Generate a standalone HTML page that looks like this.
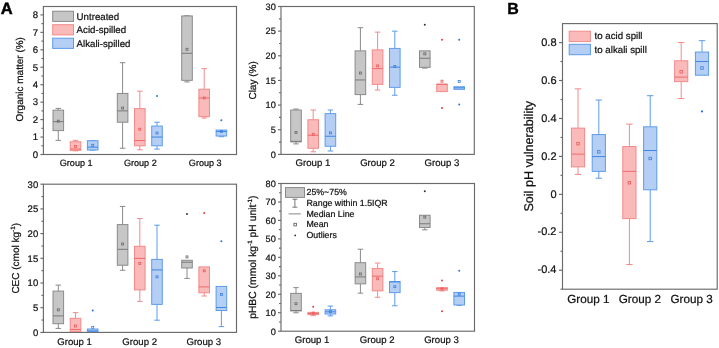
<!DOCTYPE html>
<html><head><meta charset="utf-8"><style>
html,body{margin:0;padding:0;background:#fff;}
body{width:719px;height:348px;overflow:hidden;}
svg{display:block;will-change:transform;text-rendering:geometricPrecision;font-family:"Liberation Sans", sans-serif;}
text{stroke:#111;stroke-width:0.22px;}
</style></head><body>
<svg width="719" height="348" viewBox="0 0 719 348">
<rect width="719" height="348" fill="#fff"/>
<rect x="43.4" y="6.5" width="193.1" height="148" fill="none" stroke="#6a6a6a" stroke-width="1.15"/>
<line x1="40.4" y1="154.5" x2="43.4" y2="154.5" stroke="#6a6a6a" stroke-width="1.15"/>
<text x="38.2" y="157.8" font-size="9.6" text-anchor="end" font-weight="normal" fill="#111">0</text>
<line x1="40.4" y1="137.05" x2="43.4" y2="137.05" stroke="#6a6a6a" stroke-width="1.15"/>
<text x="38.2" y="140.35" font-size="9.6" text-anchor="end" font-weight="normal" fill="#111">1</text>
<line x1="40.4" y1="119.6" x2="43.4" y2="119.6" stroke="#6a6a6a" stroke-width="1.15"/>
<text x="38.2" y="122.9" font-size="9.6" text-anchor="end" font-weight="normal" fill="#111">2</text>
<line x1="40.4" y1="102.15" x2="43.4" y2="102.15" stroke="#6a6a6a" stroke-width="1.15"/>
<text x="38.2" y="105.45" font-size="9.6" text-anchor="end" font-weight="normal" fill="#111">3</text>
<line x1="40.4" y1="84.7" x2="43.4" y2="84.7" stroke="#6a6a6a" stroke-width="1.15"/>
<text x="38.2" y="88" font-size="9.6" text-anchor="end" font-weight="normal" fill="#111">4</text>
<line x1="40.4" y1="67.25" x2="43.4" y2="67.25" stroke="#6a6a6a" stroke-width="1.15"/>
<text x="38.2" y="70.55" font-size="9.6" text-anchor="end" font-weight="normal" fill="#111">5</text>
<line x1="40.4" y1="49.8" x2="43.4" y2="49.8" stroke="#6a6a6a" stroke-width="1.15"/>
<text x="38.2" y="53.1" font-size="9.6" text-anchor="end" font-weight="normal" fill="#111">6</text>
<line x1="40.4" y1="32.35" x2="43.4" y2="32.35" stroke="#6a6a6a" stroke-width="1.15"/>
<text x="38.2" y="35.65" font-size="9.6" text-anchor="end" font-weight="normal" fill="#111">7</text>
<line x1="40.4" y1="14.9" x2="43.4" y2="14.9" stroke="#6a6a6a" stroke-width="1.15"/>
<text x="38.2" y="18.2" font-size="9.6" text-anchor="end" font-weight="normal" fill="#111">8</text>
<line x1="41.4" y1="145.78" x2="43.4" y2="145.78" stroke="#6a6a6a" stroke-width="1.15"/>
<line x1="41.4" y1="128.32" x2="43.4" y2="128.32" stroke="#6a6a6a" stroke-width="1.15"/>
<line x1="41.4" y1="110.88" x2="43.4" y2="110.88" stroke="#6a6a6a" stroke-width="1.15"/>
<line x1="41.4" y1="93.43" x2="43.4" y2="93.43" stroke="#6a6a6a" stroke-width="1.15"/>
<line x1="41.4" y1="75.98" x2="43.4" y2="75.98" stroke="#6a6a6a" stroke-width="1.15"/>
<line x1="41.4" y1="58.53" x2="43.4" y2="58.53" stroke="#6a6a6a" stroke-width="1.15"/>
<line x1="41.4" y1="41.08" x2="43.4" y2="41.08" stroke="#6a6a6a" stroke-width="1.15"/>
<line x1="41.4" y1="23.62" x2="43.4" y2="23.62" stroke="#6a6a6a" stroke-width="1.15"/>
<text x="22.9" y="79.3" font-size="10" text-anchor="middle" fill="#111" transform="rotate(-90 22.9 79.3)">Organic matter (%)</text>
<line x1="58.3" y1="108.43" x2="58.3" y2="110.18" stroke="#8a8a8a" stroke-width="1"/>
<line x1="55.55" y1="108.43" x2="61.05" y2="108.43" stroke="#8a8a8a" stroke-width="1"/>
<line x1="58.3" y1="130.59" x2="58.3" y2="140.37" stroke="#8a8a8a" stroke-width="1"/>
<line x1="55.55" y1="140.37" x2="61.05" y2="140.37" stroke="#8a8a8a" stroke-width="1"/>
<rect x="53" y="110.18" width="10.6" height="20.42" fill="#c6c6c6" stroke="#8a8a8a" stroke-width="1"/>
<line x1="53" y1="121.61" x2="63.6" y2="121.61" stroke="#7a7a7a" stroke-width="1"/>
<rect x="57.3" y="120.17" width="2" height="2" fill="none" stroke="#6a6a6a" stroke-width="0.8"/>
<line x1="75.5" y1="140.37" x2="75.5" y2="141.76" stroke="#f28a8a" stroke-width="1"/>
<line x1="72.75" y1="140.37" x2="78.25" y2="140.37" stroke="#f28a8a" stroke-width="1"/>
<line x1="75.5" y1="150.4" x2="75.5" y2="150.84" stroke="#f28a8a" stroke-width="1"/>
<line x1="72.75" y1="150.84" x2="78.25" y2="150.84" stroke="#f28a8a" stroke-width="1"/>
<rect x="70.2" y="141.76" width="10.6" height="8.64" fill="#fbbaba" stroke="#f28a8a" stroke-width="1"/>
<line x1="70.2" y1="149" x2="80.8" y2="149" stroke="#ee6a6a" stroke-width="1"/>
<rect x="74.5" y="145.3" width="2" height="2" fill="none" stroke="#e85a5a" stroke-width="0.8"/>
<line x1="92.7" y1="140.54" x2="92.7" y2="140.71" stroke="#5e9cea" stroke-width="1"/>
<line x1="89.95" y1="140.54" x2="95.45" y2="140.54" stroke="#5e9cea" stroke-width="1"/>
<line x1="92.7" y1="149.96" x2="92.7" y2="150.14" stroke="#5e9cea" stroke-width="1"/>
<line x1="89.95" y1="150.14" x2="95.45" y2="150.14" stroke="#5e9cea" stroke-width="1"/>
<rect x="87.4" y="140.71" width="10.6" height="9.25" fill="#b5cff4" stroke="#5e9cea" stroke-width="1"/>
<line x1="87.4" y1="147.17" x2="98" y2="147.17" stroke="#3f86e6" stroke-width="1"/>
<rect x="91.7" y="144.25" width="2" height="2" fill="none" stroke="#3a7fe0" stroke-width="0.8"/>
<line x1="122.6" y1="62.71" x2="122.6" y2="93.43" stroke="#8a8a8a" stroke-width="1"/>
<line x1="119.85" y1="62.71" x2="125.35" y2="62.71" stroke="#8a8a8a" stroke-width="1"/>
<line x1="122.6" y1="122.22" x2="122.6" y2="148.22" stroke="#8a8a8a" stroke-width="1"/>
<line x1="119.85" y1="148.22" x2="125.35" y2="148.22" stroke="#8a8a8a" stroke-width="1"/>
<rect x="117.3" y="93.43" width="10.6" height="28.79" fill="#c6c6c6" stroke="#8a8a8a" stroke-width="1"/>
<line x1="117.3" y1="110.88" x2="127.9" y2="110.88" stroke="#7a7a7a" stroke-width="1"/>
<rect x="121.6" y="107.08" width="2" height="2" fill="none" stroke="#6a6a6a" stroke-width="0.8"/>
<line x1="139.8" y1="91.16" x2="139.8" y2="108.61" stroke="#f28a8a" stroke-width="1"/>
<line x1="137.05" y1="91.16" x2="142.55" y2="91.16" stroke="#f28a8a" stroke-width="1"/>
<line x1="139.8" y1="145.78" x2="139.8" y2="149.79" stroke="#f28a8a" stroke-width="1"/>
<line x1="137.05" y1="149.79" x2="142.55" y2="149.79" stroke="#f28a8a" stroke-width="1"/>
<rect x="134.5" y="108.61" width="10.6" height="37.17" fill="#fbbaba" stroke="#f28a8a" stroke-width="1"/>
<line x1="134.5" y1="140.54" x2="145.1" y2="140.54" stroke="#ee6a6a" stroke-width="1"/>
<rect x="138.8" y="128.2" width="2" height="2" fill="none" stroke="#e85a5a" stroke-width="0.8"/>
<line x1="157" y1="122.22" x2="157" y2="126.06" stroke="#5e9cea" stroke-width="1"/>
<line x1="154.25" y1="122.22" x2="159.75" y2="122.22" stroke="#5e9cea" stroke-width="1"/>
<line x1="157" y1="145.78" x2="157" y2="149.09" stroke="#5e9cea" stroke-width="1"/>
<line x1="154.25" y1="149.09" x2="159.75" y2="149.09" stroke="#5e9cea" stroke-width="1"/>
<rect x="151.7" y="126.06" width="10.6" height="19.72" fill="#b5cff4" stroke="#5e9cea" stroke-width="1"/>
<line x1="151.7" y1="137.05" x2="162.3" y2="137.05" stroke="#3f86e6" stroke-width="1"/>
<rect x="156" y="132.04" width="2" height="2" fill="none" stroke="#3a7fe0" stroke-width="0.8"/>
<circle cx="157" cy="96.04" r="1" fill="#2a72e0"/>
<line x1="187" y1="15.77" x2="187" y2="15.95" stroke="#8a8a8a" stroke-width="1"/>
<line x1="184.25" y1="15.77" x2="189.75" y2="15.77" stroke="#8a8a8a" stroke-width="1"/>
<line x1="187" y1="80.34" x2="187" y2="81.91" stroke="#8a8a8a" stroke-width="1"/>
<line x1="184.25" y1="81.91" x2="189.75" y2="81.91" stroke="#8a8a8a" stroke-width="1"/>
<rect x="181.7" y="15.95" width="10.6" height="64.39" fill="#c6c6c6" stroke="#8a8a8a" stroke-width="1"/>
<line x1="181.7" y1="53.29" x2="192.3" y2="53.29" stroke="#7a7a7a" stroke-width="1"/>
<rect x="186" y="48.28" width="2" height="2" fill="none" stroke="#6a6a6a" stroke-width="0.8"/>
<line x1="204.2" y1="68.65" x2="204.2" y2="89.24" stroke="#f28a8a" stroke-width="1"/>
<line x1="201.45" y1="68.65" x2="206.95" y2="68.65" stroke="#f28a8a" stroke-width="1"/>
<line x1="204.2" y1="116.63" x2="204.2" y2="118.03" stroke="#f28a8a" stroke-width="1"/>
<line x1="201.45" y1="118.03" x2="206.95" y2="118.03" stroke="#f28a8a" stroke-width="1"/>
<rect x="198.9" y="89.24" width="10.6" height="27.4" fill="#fbbaba" stroke="#f28a8a" stroke-width="1"/>
<line x1="198.9" y1="97.96" x2="209.5" y2="97.96" stroke="#ee6a6a" stroke-width="1"/>
<rect x="203.2" y="96.96" width="2" height="2" fill="none" stroke="#e85a5a" stroke-width="0.8"/>
<line x1="221.4" y1="136" x2="221.4" y2="136.7" stroke="#5e9cea" stroke-width="1"/>
<line x1="218.65" y1="136.7" x2="224.15" y2="136.7" stroke="#5e9cea" stroke-width="1"/>
<rect x="216.1" y="130.07" width="10.6" height="5.93" fill="#b5cff4" stroke="#5e9cea" stroke-width="1"/>
<line x1="216.1" y1="131.47" x2="226.7" y2="131.47" stroke="#3f86e6" stroke-width="1"/>
<rect x="220.4" y="130.47" width="2" height="2" fill="none" stroke="#3a7fe0" stroke-width="0.8"/>
<circle cx="221.4" cy="120.3" r="1" fill="#2a72e0"/>
<text x="76.15" y="165.8" font-size="9.1" text-anchor="middle" font-weight="normal" fill="#111">Group 1</text>
<text x="140.35" y="165.8" font-size="9.1" text-anchor="middle" font-weight="normal" fill="#111">Group 2</text>
<text x="205.25" y="165.8" font-size="9.1" text-anchor="middle" font-weight="normal" fill="#111">Group 3</text>
<rect x="52.7" y="11.2" width="20.8" height="10.2" fill="#c6c6c6" stroke="#8a8a8a" stroke-width="1"/>
<text x="76.6" y="19.8" font-size="9.7" text-anchor="start" font-weight="normal" fill="#111">Untreated</text>
<rect x="52.7" y="24.7" width="20.8" height="10.2" fill="#fbbaba" stroke="#f28a8a" stroke-width="1"/>
<text x="76.6" y="33.3" font-size="9.7" text-anchor="start" font-weight="normal" fill="#111">Acid-spilled</text>
<rect x="52.7" y="38.2" width="20.8" height="10.2" fill="#b5cff4" stroke="#5e9cea" stroke-width="1"/>
<text x="76.6" y="46.8" font-size="9.7" text-anchor="start" font-weight="normal" fill="#111">Alkali-spilled</text>
<rect x="281" y="6.5" width="193.3" height="147.9" fill="none" stroke="#6a6a6a" stroke-width="1.15"/>
<line x1="278" y1="154.4" x2="281" y2="154.4" stroke="#6a6a6a" stroke-width="1.15"/>
<text x="275.8" y="157.7" font-size="9.2" text-anchor="end" font-weight="normal" fill="#111">0</text>
<line x1="278" y1="129.75" x2="281" y2="129.75" stroke="#6a6a6a" stroke-width="1.15"/>
<text x="275.8" y="133.05" font-size="9.2" text-anchor="end" font-weight="normal" fill="#111">5</text>
<line x1="278" y1="105.1" x2="281" y2="105.1" stroke="#6a6a6a" stroke-width="1.15"/>
<text x="275.8" y="108.4" font-size="9.2" text-anchor="end" font-weight="normal" fill="#111">10</text>
<line x1="278" y1="80.45" x2="281" y2="80.45" stroke="#6a6a6a" stroke-width="1.15"/>
<text x="275.8" y="83.75" font-size="9.2" text-anchor="end" font-weight="normal" fill="#111">15</text>
<line x1="278" y1="55.8" x2="281" y2="55.8" stroke="#6a6a6a" stroke-width="1.15"/>
<text x="275.8" y="59.1" font-size="9.2" text-anchor="end" font-weight="normal" fill="#111">20</text>
<line x1="278" y1="31.15" x2="281" y2="31.15" stroke="#6a6a6a" stroke-width="1.15"/>
<text x="275.8" y="34.45" font-size="9.2" text-anchor="end" font-weight="normal" fill="#111">25</text>
<line x1="278" y1="6.5" x2="281" y2="6.5" stroke="#6a6a6a" stroke-width="1.15"/>
<text x="275.8" y="9.8" font-size="9.2" text-anchor="end" font-weight="normal" fill="#111">30</text>
<line x1="279" y1="142.08" x2="281" y2="142.08" stroke="#6a6a6a" stroke-width="1.15"/>
<line x1="279" y1="117.43" x2="281" y2="117.43" stroke="#6a6a6a" stroke-width="1.15"/>
<line x1="279" y1="92.78" x2="281" y2="92.78" stroke="#6a6a6a" stroke-width="1.15"/>
<line x1="279" y1="68.12" x2="281" y2="68.12" stroke="#6a6a6a" stroke-width="1.15"/>
<line x1="279" y1="43.48" x2="281" y2="43.48" stroke="#6a6a6a" stroke-width="1.15"/>
<line x1="279" y1="18.83" x2="281" y2="18.83" stroke="#6a6a6a" stroke-width="1.15"/>
<text x="256.3" y="80.4" font-size="10" text-anchor="middle" fill="#111" transform="rotate(-90 256.3 80.4)">Clay (%)</text>
<line x1="296" y1="109.04" x2="296" y2="110.03" stroke="#8a8a8a" stroke-width="1"/>
<line x1="293.25" y1="109.04" x2="298.75" y2="109.04" stroke="#8a8a8a" stroke-width="1"/>
<line x1="296" y1="141.88" x2="296" y2="143.9" stroke="#8a8a8a" stroke-width="1"/>
<line x1="293.25" y1="143.9" x2="298.75" y2="143.9" stroke="#8a8a8a" stroke-width="1"/>
<rect x="290.7" y="110.03" width="10.6" height="31.85" fill="#c6c6c6" stroke="#8a8a8a" stroke-width="1"/>
<line x1="290.7" y1="141.34" x2="301.3" y2="141.34" stroke="#7a7a7a" stroke-width="1"/>
<rect x="295" y="131.46" width="2" height="2" fill="none" stroke="#6a6a6a" stroke-width="0.8"/>
<line x1="313.2" y1="110.03" x2="313.2" y2="119.74" stroke="#f28a8a" stroke-width="1"/>
<line x1="310.45" y1="110.03" x2="315.95" y2="110.03" stroke="#f28a8a" stroke-width="1"/>
<line x1="313.2" y1="148.29" x2="313.2" y2="151.79" stroke="#f28a8a" stroke-width="1"/>
<line x1="310.45" y1="151.79" x2="315.95" y2="151.79" stroke="#f28a8a" stroke-width="1"/>
<rect x="307.9" y="119.74" width="10.6" height="28.54" fill="#fbbaba" stroke="#f28a8a" stroke-width="1"/>
<line x1="307.9" y1="135.27" x2="318.5" y2="135.27" stroke="#ee6a6a" stroke-width="1"/>
<rect x="312.2" y="133.29" width="2" height="2" fill="none" stroke="#e85a5a" stroke-width="0.8"/>
<line x1="330.4" y1="110.03" x2="330.4" y2="113.63" stroke="#5e9cea" stroke-width="1"/>
<line x1="327.65" y1="110.03" x2="333.15" y2="110.03" stroke="#5e9cea" stroke-width="1"/>
<line x1="330.4" y1="146.27" x2="330.4" y2="151" stroke="#5e9cea" stroke-width="1"/>
<line x1="327.65" y1="151" x2="333.15" y2="151" stroke="#5e9cea" stroke-width="1"/>
<rect x="325.1" y="113.63" width="10.6" height="32.64" fill="#b5cff4" stroke="#5e9cea" stroke-width="1"/>
<line x1="325.1" y1="136.26" x2="335.7" y2="136.26" stroke="#3f86e6" stroke-width="1"/>
<rect x="329.4" y="131.86" width="2" height="2" fill="none" stroke="#3a7fe0" stroke-width="0.8"/>
<line x1="360.4" y1="27.7" x2="360.4" y2="50.87" stroke="#8a8a8a" stroke-width="1"/>
<line x1="357.65" y1="27.7" x2="363.15" y2="27.7" stroke="#8a8a8a" stroke-width="1"/>
<line x1="360.4" y1="94.6" x2="360.4" y2="104.41" stroke="#8a8a8a" stroke-width="1"/>
<line x1="357.65" y1="104.41" x2="363.15" y2="104.41" stroke="#8a8a8a" stroke-width="1"/>
<rect x="355.1" y="50.87" width="10.6" height="43.73" fill="#c6c6c6" stroke="#8a8a8a" stroke-width="1"/>
<line x1="355.1" y1="79.96" x2="365.7" y2="79.96" stroke="#7a7a7a" stroke-width="1"/>
<rect x="359.4" y="72.06" width="2" height="2" fill="none" stroke="#6a6a6a" stroke-width="0.8"/>
<line x1="377.6" y1="32.14" x2="377.6" y2="49.88" stroke="#f28a8a" stroke-width="1"/>
<line x1="374.85" y1="32.14" x2="380.35" y2="32.14" stroke="#f28a8a" stroke-width="1"/>
<line x1="377.6" y1="84.39" x2="377.6" y2="90.06" stroke="#f28a8a" stroke-width="1"/>
<line x1="374.85" y1="90.06" x2="380.35" y2="90.06" stroke="#f28a8a" stroke-width="1"/>
<rect x="372.3" y="49.88" width="10.6" height="34.51" fill="#fbbaba" stroke="#f28a8a" stroke-width="1"/>
<line x1="372.3" y1="68.62" x2="382.9" y2="68.62" stroke="#ee6a6a" stroke-width="1"/>
<rect x="376.6" y="64.91" width="2" height="2" fill="none" stroke="#e85a5a" stroke-width="0.8"/>
<line x1="394.8" y1="31.15" x2="394.8" y2="48.41" stroke="#5e9cea" stroke-width="1"/>
<line x1="392.05" y1="31.15" x2="397.55" y2="31.15" stroke="#5e9cea" stroke-width="1"/>
<line x1="394.8" y1="87.35" x2="394.8" y2="95.24" stroke="#5e9cea" stroke-width="1"/>
<line x1="392.05" y1="95.24" x2="397.55" y2="95.24" stroke="#5e9cea" stroke-width="1"/>
<rect x="389.5" y="48.41" width="10.6" height="38.95" fill="#b5cff4" stroke="#5e9cea" stroke-width="1"/>
<line x1="389.5" y1="67.14" x2="400.1" y2="67.14" stroke="#3f86e6" stroke-width="1"/>
<rect x="393.8" y="65.4" width="2" height="2" fill="none" stroke="#3a7fe0" stroke-width="0.8"/>
<line x1="424.8" y1="67.34" x2="424.8" y2="68.12" stroke="#8a8a8a" stroke-width="1"/>
<line x1="422.05" y1="68.12" x2="427.55" y2="68.12" stroke="#8a8a8a" stroke-width="1"/>
<rect x="419.5" y="50.87" width="10.6" height="16.47" fill="#c6c6c6" stroke="#8a8a8a" stroke-width="1"/>
<line x1="419.5" y1="58.27" x2="430.1" y2="58.27" stroke="#7a7a7a" stroke-width="1"/>
<rect x="423.8" y="52.83" width="2" height="2" fill="none" stroke="#6a6a6a" stroke-width="0.8"/>
<circle cx="424.8" cy="24.74" r="1" fill="#333333"/>
<rect x="436.7" y="84.15" width="10.6" height="7.44" fill="#fbbaba" stroke="#f28a8a" stroke-width="1"/>
<line x1="436.7" y1="84.3" x2="447.3" y2="84.3" stroke="#ee6a6a" stroke-width="1"/>
<rect x="441" y="80.19" width="2" height="2" fill="none" stroke="#e85a5a" stroke-width="0.8"/>
<circle cx="442" cy="107.91" r="1" fill="#f03a3a"/>
<circle cx="442" cy="39.78" r="1" fill="#f03a3a"/>
<rect x="453.9" y="86.76" width="10.6" height="2.56" fill="#b5cff4" stroke="#5e9cea" stroke-width="1"/>
<line x1="453.9" y1="87.84" x2="464.5" y2="87.84" stroke="#3f86e6" stroke-width="1"/>
<rect x="458.2" y="80.44" width="2" height="2" fill="none" stroke="#3a7fe0" stroke-width="0.8"/>
<circle cx="459.2" cy="104.61" r="1" fill="#2a72e0"/>
<circle cx="459.2" cy="39.78" r="1" fill="#2a72e0"/>
<text x="312.9" y="165.9" font-size="9.6" text-anchor="middle" font-weight="normal" fill="#111">Group 1</text>
<text x="377.5" y="165.9" font-size="9.6" text-anchor="middle" font-weight="normal" fill="#111">Group 2</text>
<text x="441.9" y="165.9" font-size="9.6" text-anchor="middle" font-weight="normal" fill="#111">Group 3</text>
<rect x="43.4" y="184.2" width="193.1" height="148.2" fill="none" stroke="#6a6a6a" stroke-width="1.15"/>
<line x1="40.4" y1="332.4" x2="43.4" y2="332.4" stroke="#6a6a6a" stroke-width="1.15"/>
<text x="38.2" y="335.7" font-size="9.5" text-anchor="end" font-weight="normal" fill="#111">0</text>
<line x1="40.4" y1="307.7" x2="43.4" y2="307.7" stroke="#6a6a6a" stroke-width="1.15"/>
<text x="38.2" y="311" font-size="9.5" text-anchor="end" font-weight="normal" fill="#111">5</text>
<line x1="40.4" y1="283" x2="43.4" y2="283" stroke="#6a6a6a" stroke-width="1.15"/>
<text x="38.2" y="286.3" font-size="9.5" text-anchor="end" font-weight="normal" fill="#111">10</text>
<line x1="40.4" y1="258.3" x2="43.4" y2="258.3" stroke="#6a6a6a" stroke-width="1.15"/>
<text x="38.2" y="261.6" font-size="9.5" text-anchor="end" font-weight="normal" fill="#111">15</text>
<line x1="40.4" y1="233.6" x2="43.4" y2="233.6" stroke="#6a6a6a" stroke-width="1.15"/>
<text x="38.2" y="236.9" font-size="9.5" text-anchor="end" font-weight="normal" fill="#111">20</text>
<line x1="40.4" y1="208.9" x2="43.4" y2="208.9" stroke="#6a6a6a" stroke-width="1.15"/>
<text x="38.2" y="212.2" font-size="9.5" text-anchor="end" font-weight="normal" fill="#111">25</text>
<line x1="40.4" y1="184.2" x2="43.4" y2="184.2" stroke="#6a6a6a" stroke-width="1.15"/>
<text x="38.2" y="187.5" font-size="9.5" text-anchor="end" font-weight="normal" fill="#111">30</text>
<line x1="41.4" y1="320.05" x2="43.4" y2="320.05" stroke="#6a6a6a" stroke-width="1.15"/>
<line x1="41.4" y1="295.35" x2="43.4" y2="295.35" stroke="#6a6a6a" stroke-width="1.15"/>
<line x1="41.4" y1="270.65" x2="43.4" y2="270.65" stroke="#6a6a6a" stroke-width="1.15"/>
<line x1="41.4" y1="245.95" x2="43.4" y2="245.95" stroke="#6a6a6a" stroke-width="1.15"/>
<line x1="41.4" y1="221.25" x2="43.4" y2="221.25" stroke="#6a6a6a" stroke-width="1.15"/>
<line x1="41.4" y1="196.55" x2="43.4" y2="196.55" stroke="#6a6a6a" stroke-width="1.15"/>
<text x="18.9" y="258.3" font-size="10" text-anchor="middle" fill="#111" transform="rotate(-90 18.9 258.3)">CEC (cmol kg<tspan dy="-4.2" font-size="6.3">-1</tspan><tspan dy="4.2">)</tspan></text>
<line x1="58.3" y1="285.12" x2="58.3" y2="291.1" stroke="#8a8a8a" stroke-width="1"/>
<line x1="55.55" y1="285.12" x2="61.05" y2="285.12" stroke="#8a8a8a" stroke-width="1"/>
<line x1="58.3" y1="323.71" x2="58.3" y2="328.4" stroke="#8a8a8a" stroke-width="1"/>
<line x1="55.55" y1="328.4" x2="61.05" y2="328.4" stroke="#8a8a8a" stroke-width="1"/>
<rect x="53" y="291.1" width="10.6" height="32.6" fill="#c6c6c6" stroke="#8a8a8a" stroke-width="1"/>
<line x1="53" y1="315.9" x2="63.6" y2="315.9" stroke="#7a7a7a" stroke-width="1"/>
<rect x="57.3" y="308.82" width="2" height="2" fill="none" stroke="#6a6a6a" stroke-width="0.8"/>
<line x1="75.5" y1="312.64" x2="75.5" y2="318.32" stroke="#f28a8a" stroke-width="1"/>
<line x1="72.75" y1="312.64" x2="78.25" y2="312.64" stroke="#f28a8a" stroke-width="1"/>
<rect x="70.2" y="318.32" width="10.6" height="13.09" fill="#fbbaba" stroke="#f28a8a" stroke-width="1"/>
<line x1="70.2" y1="329.44" x2="80.8" y2="329.44" stroke="#ee6a6a" stroke-width="1"/>
<rect x="74.5" y="324.98" width="2" height="2" fill="none" stroke="#e85a5a" stroke-width="0.8"/>
<rect x="87.4" y="328.99" width="10.6" height="2.42" fill="#b5cff4" stroke="#5e9cea" stroke-width="1"/>
<line x1="87.4" y1="330.92" x2="98" y2="330.92" stroke="#3f86e6" stroke-width="1"/>
<rect x="91.7" y="326.31" width="2" height="2" fill="none" stroke="#3a7fe0" stroke-width="0.8"/>
<circle cx="92.7" cy="310.61" r="1" fill="#2a72e0"/>
<line x1="122.6" y1="206.43" x2="122.6" y2="224.61" stroke="#8a8a8a" stroke-width="1"/>
<line x1="119.85" y1="206.43" x2="125.35" y2="206.43" stroke="#8a8a8a" stroke-width="1"/>
<line x1="122.6" y1="265.22" x2="122.6" y2="270.3" stroke="#8a8a8a" stroke-width="1"/>
<line x1="119.85" y1="270.3" x2="125.35" y2="270.3" stroke="#8a8a8a" stroke-width="1"/>
<rect x="117.3" y="224.61" width="10.6" height="40.61" fill="#c6c6c6" stroke="#8a8a8a" stroke-width="1"/>
<line x1="117.3" y1="249.31" x2="127.9" y2="249.31" stroke="#7a7a7a" stroke-width="1"/>
<rect x="121.6" y="242.97" width="2" height="2" fill="none" stroke="#6a6a6a" stroke-width="0.8"/>
<line x1="139.8" y1="218.48" x2="139.8" y2="246.3" stroke="#f28a8a" stroke-width="1"/>
<line x1="137.05" y1="218.48" x2="142.55" y2="218.48" stroke="#f28a8a" stroke-width="1"/>
<line x1="139.8" y1="289.92" x2="139.8" y2="301.38" stroke="#f28a8a" stroke-width="1"/>
<line x1="137.05" y1="301.38" x2="142.55" y2="301.38" stroke="#f28a8a" stroke-width="1"/>
<rect x="134.5" y="246.3" width="10.6" height="43.62" fill="#fbbaba" stroke="#f28a8a" stroke-width="1"/>
<line x1="134.5" y1="258.4" x2="145.1" y2="258.4" stroke="#ee6a6a" stroke-width="1"/>
<rect x="138.8" y="262.39" width="2" height="2" fill="none" stroke="#e85a5a" stroke-width="0.8"/>
<line x1="157" y1="225.2" x2="157" y2="259.39" stroke="#5e9cea" stroke-width="1"/>
<line x1="154.25" y1="225.2" x2="159.75" y2="225.2" stroke="#5e9cea" stroke-width="1"/>
<line x1="157" y1="304.39" x2="157" y2="320.2" stroke="#5e9cea" stroke-width="1"/>
<line x1="154.25" y1="320.2" x2="159.75" y2="320.2" stroke="#5e9cea" stroke-width="1"/>
<rect x="151.7" y="259.39" width="10.6" height="45" fill="#b5cff4" stroke="#5e9cea" stroke-width="1"/>
<line x1="151.7" y1="269.91" x2="162.3" y2="269.91" stroke="#3f86e6" stroke-width="1"/>
<rect x="156" y="275.82" width="2" height="2" fill="none" stroke="#3a7fe0" stroke-width="0.8"/>
<line x1="187" y1="267.98" x2="187" y2="278.41" stroke="#8a8a8a" stroke-width="1"/>
<line x1="184.25" y1="278.41" x2="189.75" y2="278.41" stroke="#8a8a8a" stroke-width="1"/>
<rect x="181.7" y="260.28" width="10.6" height="7.71" fill="#c6c6c6" stroke="#8a8a8a" stroke-width="1"/>
<line x1="181.7" y1="262.25" x2="192.3" y2="262.25" stroke="#7a7a7a" stroke-width="1"/>
<rect x="186" y="255.92" width="2" height="2" fill="none" stroke="#6a6a6a" stroke-width="0.8"/>
<circle cx="187" cy="214.09" r="1" fill="#333333"/>
<line x1="204.2" y1="292.78" x2="204.2" y2="295.99" stroke="#f28a8a" stroke-width="1"/>
<line x1="201.45" y1="295.99" x2="206.95" y2="295.99" stroke="#f28a8a" stroke-width="1"/>
<rect x="198.9" y="266.9" width="10.6" height="25.89" fill="#fbbaba" stroke="#f28a8a" stroke-width="1"/>
<line x1="198.9" y1="286.9" x2="209.5" y2="286.9" stroke="#ee6a6a" stroke-width="1"/>
<rect x="203.2" y="269.8" width="2" height="2" fill="none" stroke="#e85a5a" stroke-width="0.8"/>
<circle cx="204.2" cy="213" r="1" fill="#f03a3a"/>
<line x1="221.4" y1="310.52" x2="221.4" y2="326.62" stroke="#5e9cea" stroke-width="1"/>
<line x1="218.65" y1="326.62" x2="224.15" y2="326.62" stroke="#5e9cea" stroke-width="1"/>
<rect x="216.1" y="286.41" width="10.6" height="24.11" fill="#b5cff4" stroke="#5e9cea" stroke-width="1"/>
<line x1="216.1" y1="307.5" x2="226.7" y2="307.5" stroke="#3f86e6" stroke-width="1"/>
<rect x="220.4" y="293.51" width="2" height="2" fill="none" stroke="#3a7fe0" stroke-width="0.8"/>
<circle cx="221.4" cy="241.21" r="1" fill="#2a72e0"/>
<text x="74.6" y="344.5" font-size="9.6" text-anchor="middle" font-weight="normal" fill="#111">Group 1</text>
<text x="139.65" y="344.5" font-size="9.6" text-anchor="middle" font-weight="normal" fill="#111">Group 2</text>
<text x="203.8" y="344.5" font-size="9.6" text-anchor="middle" font-weight="normal" fill="#111">Group 3</text>
<rect x="281" y="183.5" width="193.5" height="147.7" fill="none" stroke="#6a6a6a" stroke-width="1.15"/>
<line x1="278" y1="331.2" x2="281" y2="331.2" stroke="#6a6a6a" stroke-width="1.15"/>
<text x="275.8" y="334.5" font-size="9.2" text-anchor="end" font-weight="normal" fill="#111">0</text>
<line x1="278" y1="312.74" x2="281" y2="312.74" stroke="#6a6a6a" stroke-width="1.15"/>
<text x="275.8" y="316.04" font-size="9.2" text-anchor="end" font-weight="normal" fill="#111">10</text>
<line x1="278" y1="294.27" x2="281" y2="294.27" stroke="#6a6a6a" stroke-width="1.15"/>
<text x="275.8" y="297.57" font-size="9.2" text-anchor="end" font-weight="normal" fill="#111">20</text>
<line x1="278" y1="275.81" x2="281" y2="275.81" stroke="#6a6a6a" stroke-width="1.15"/>
<text x="275.8" y="279.11" font-size="9.2" text-anchor="end" font-weight="normal" fill="#111">30</text>
<line x1="278" y1="257.35" x2="281" y2="257.35" stroke="#6a6a6a" stroke-width="1.15"/>
<text x="275.8" y="260.65" font-size="9.2" text-anchor="end" font-weight="normal" fill="#111">40</text>
<line x1="278" y1="238.89" x2="281" y2="238.89" stroke="#6a6a6a" stroke-width="1.15"/>
<text x="275.8" y="242.19" font-size="9.2" text-anchor="end" font-weight="normal" fill="#111">50</text>
<line x1="278" y1="220.42" x2="281" y2="220.42" stroke="#6a6a6a" stroke-width="1.15"/>
<text x="275.8" y="223.72" font-size="9.2" text-anchor="end" font-weight="normal" fill="#111">60</text>
<line x1="278" y1="201.96" x2="281" y2="201.96" stroke="#6a6a6a" stroke-width="1.15"/>
<text x="275.8" y="205.26" font-size="9.2" text-anchor="end" font-weight="normal" fill="#111">70</text>
<line x1="278" y1="183.5" x2="281" y2="183.5" stroke="#6a6a6a" stroke-width="1.15"/>
<text x="275.8" y="186.8" font-size="9.2" text-anchor="end" font-weight="normal" fill="#111">80</text>
<line x1="279" y1="321.97" x2="281" y2="321.97" stroke="#6a6a6a" stroke-width="1.15"/>
<line x1="279" y1="303.51" x2="281" y2="303.51" stroke="#6a6a6a" stroke-width="1.15"/>
<line x1="279" y1="285.04" x2="281" y2="285.04" stroke="#6a6a6a" stroke-width="1.15"/>
<line x1="279" y1="266.58" x2="281" y2="266.58" stroke="#6a6a6a" stroke-width="1.15"/>
<line x1="279" y1="248.12" x2="281" y2="248.12" stroke="#6a6a6a" stroke-width="1.15"/>
<line x1="279" y1="229.66" x2="281" y2="229.66" stroke="#6a6a6a" stroke-width="1.15"/>
<line x1="279" y1="211.19" x2="281" y2="211.19" stroke="#6a6a6a" stroke-width="1.15"/>
<line x1="279" y1="192.73" x2="281" y2="192.73" stroke="#6a6a6a" stroke-width="1.15"/>
<text x="256.2" y="257.2" font-size="10.35" text-anchor="middle" fill="#111" transform="rotate(-90 256.2 257.2)">pHBC (mmol kg<tspan dy="-4.2" font-size="6.3">-1</tspan><tspan dy="4.2"> pH unit</tspan><tspan dy="-4.2" font-size="6.3">-1</tspan><tspan dy="4.2">)</tspan></text>
<line x1="296" y1="287.63" x2="296" y2="293.35" stroke="#8a8a8a" stroke-width="1"/>
<line x1="293.25" y1="287.63" x2="298.75" y2="287.63" stroke="#8a8a8a" stroke-width="1"/>
<line x1="296" y1="310.89" x2="296" y2="312.74" stroke="#8a8a8a" stroke-width="1"/>
<line x1="293.25" y1="312.74" x2="298.75" y2="312.74" stroke="#8a8a8a" stroke-width="1"/>
<rect x="290.7" y="293.35" width="10.6" height="17.54" fill="#c6c6c6" stroke="#8a8a8a" stroke-width="1"/>
<line x1="290.7" y1="310.52" x2="301.3" y2="310.52" stroke="#7a7a7a" stroke-width="1"/>
<rect x="295" y="302.69" width="2" height="2" fill="none" stroke="#6a6a6a" stroke-width="0.8"/>
<line x1="313.2" y1="314.58" x2="313.2" y2="315.69" stroke="#f28a8a" stroke-width="1"/>
<line x1="310.45" y1="315.69" x2="315.95" y2="315.69" stroke="#f28a8a" stroke-width="1"/>
<rect x="307.9" y="312.37" width="10.6" height="2.22" fill="#fbbaba" stroke="#f28a8a" stroke-width="1"/>
<line x1="307.9" y1="313.48" x2="318.5" y2="313.48" stroke="#ee6a6a" stroke-width="1"/>
<rect x="312.2" y="312.11" width="2" height="2" fill="none" stroke="#e85a5a" stroke-width="0.8"/>
<circle cx="313.2" cy="306.64" r="1" fill="#f03a3a"/>
<line x1="330.4" y1="306.09" x2="330.4" y2="309.78" stroke="#5e9cea" stroke-width="1"/>
<line x1="327.65" y1="306.09" x2="333.15" y2="306.09" stroke="#5e9cea" stroke-width="1"/>
<line x1="330.4" y1="314.03" x2="330.4" y2="315.88" stroke="#5e9cea" stroke-width="1"/>
<line x1="327.65" y1="315.88" x2="333.15" y2="315.88" stroke="#5e9cea" stroke-width="1"/>
<rect x="325.1" y="309.78" width="10.6" height="4.25" fill="#b5cff4" stroke="#5e9cea" stroke-width="1"/>
<line x1="325.1" y1="311.81" x2="335.7" y2="311.81" stroke="#3f86e6" stroke-width="1"/>
<rect x="329.4" y="310.63" width="2" height="2" fill="none" stroke="#3a7fe0" stroke-width="0.8"/>
<line x1="360.4" y1="249.23" x2="360.4" y2="262.7" stroke="#8a8a8a" stroke-width="1"/>
<line x1="357.65" y1="249.23" x2="363.15" y2="249.23" stroke="#8a8a8a" stroke-width="1"/>
<line x1="360.4" y1="283.84" x2="360.4" y2="293.17" stroke="#8a8a8a" stroke-width="1"/>
<line x1="357.65" y1="293.17" x2="363.15" y2="293.17" stroke="#8a8a8a" stroke-width="1"/>
<rect x="355.1" y="262.7" width="10.6" height="21.14" fill="#c6c6c6" stroke="#8a8a8a" stroke-width="1"/>
<line x1="355.1" y1="276.92" x2="365.7" y2="276.92" stroke="#7a7a7a" stroke-width="1"/>
<rect x="359.4" y="272.97" width="2" height="2" fill="none" stroke="#6a6a6a" stroke-width="0.8"/>
<line x1="377.6" y1="263.07" x2="377.6" y2="268.43" stroke="#f28a8a" stroke-width="1"/>
<line x1="374.85" y1="263.07" x2="380.35" y2="263.07" stroke="#f28a8a" stroke-width="1"/>
<line x1="377.6" y1="290.86" x2="377.6" y2="297.23" stroke="#f28a8a" stroke-width="1"/>
<line x1="374.85" y1="297.23" x2="380.35" y2="297.23" stroke="#f28a8a" stroke-width="1"/>
<rect x="372.3" y="268.43" width="10.6" height="22.43" fill="#fbbaba" stroke="#f28a8a" stroke-width="1"/>
<line x1="372.3" y1="276.18" x2="382.9" y2="276.18" stroke="#ee6a6a" stroke-width="1"/>
<rect x="376.6" y="277.77" width="2" height="2" fill="none" stroke="#e85a5a" stroke-width="0.8"/>
<line x1="394.8" y1="271.57" x2="394.8" y2="281.54" stroke="#5e9cea" stroke-width="1"/>
<line x1="392.05" y1="271.57" x2="397.55" y2="271.57" stroke="#5e9cea" stroke-width="1"/>
<line x1="394.8" y1="292.61" x2="394.8" y2="305.81" stroke="#5e9cea" stroke-width="1"/>
<line x1="392.05" y1="305.81" x2="397.55" y2="305.81" stroke="#5e9cea" stroke-width="1"/>
<rect x="389.5" y="281.54" width="10.6" height="11.08" fill="#b5cff4" stroke="#5e9cea" stroke-width="1"/>
<line x1="389.5" y1="281.91" x2="400.1" y2="281.91" stroke="#3f86e6" stroke-width="1"/>
<rect x="393.8" y="285.71" width="2" height="2" fill="none" stroke="#3a7fe0" stroke-width="0.8"/>
<line x1="424.8" y1="227.44" x2="424.8" y2="229.84" stroke="#8a8a8a" stroke-width="1"/>
<line x1="422.05" y1="229.84" x2="427.55" y2="229.84" stroke="#8a8a8a" stroke-width="1"/>
<rect x="419.5" y="215.26" width="10.6" height="12.19" fill="#c6c6c6" stroke="#8a8a8a" stroke-width="1"/>
<line x1="419.5" y1="223.75" x2="430.1" y2="223.75" stroke="#7a7a7a" stroke-width="1"/>
<rect x="423.8" y="216.1" width="2" height="2" fill="none" stroke="#6a6a6a" stroke-width="0.8"/>
<circle cx="424.8" cy="191.25" r="1" fill="#333333"/>
<line x1="442" y1="290.21" x2="442" y2="290.95" stroke="#f28a8a" stroke-width="1"/>
<line x1="439.25" y1="290.95" x2="444.75" y2="290.95" stroke="#f28a8a" stroke-width="1"/>
<rect x="436.7" y="287.63" width="10.6" height="2.58" fill="#fbbaba" stroke="#f28a8a" stroke-width="1"/>
<line x1="436.7" y1="288.74" x2="447.3" y2="288.74" stroke="#ee6a6a" stroke-width="1"/>
<rect x="441" y="287.92" width="2" height="2" fill="none" stroke="#e85a5a" stroke-width="0.8"/>
<circle cx="442" cy="280.43" r="1" fill="#f03a3a"/>
<circle cx="442" cy="311.26" r="1" fill="#f03a3a"/>
<line x1="459.2" y1="304.98" x2="459.2" y2="305.35" stroke="#5e9cea" stroke-width="1"/>
<line x1="456.45" y1="305.35" x2="461.95" y2="305.35" stroke="#5e9cea" stroke-width="1"/>
<rect x="453.9" y="292.43" width="10.6" height="12.55" fill="#b5cff4" stroke="#5e9cea" stroke-width="1"/>
<line x1="453.9" y1="296.12" x2="464.5" y2="296.12" stroke="#3f86e6" stroke-width="1"/>
<rect x="458.2" y="293.18" width="2" height="2" fill="none" stroke="#3a7fe0" stroke-width="0.8"/>
<circle cx="459.2" cy="270.83" r="1" fill="#2a72e0"/>
<text x="312.1" y="343" font-size="9.6" text-anchor="middle" font-weight="normal" fill="#111">Group 1</text>
<text x="377.15" y="343" font-size="9.6" text-anchor="middle" font-weight="normal" fill="#111">Group 2</text>
<text x="441.5" y="343" font-size="9.6" text-anchor="middle" font-weight="normal" fill="#111">Group 3</text>
<rect x="285.5" y="187.6" width="19" height="9.8" fill="#c6c6c6" stroke="#8a8a8a" stroke-width="1"/>
<text x="306.5" y="195.3" font-size="8.8" text-anchor="start" font-weight="normal" fill="#111">25%~75%</text>
<line x1="294.9" y1="199.2" x2="294.9" y2="207.2" stroke="#555" stroke-width="0.8"/>
<line x1="292.4" y1="199.2" x2="297.4" y2="199.2" stroke="#555" stroke-width="0.8"/>
<line x1="292.4" y1="207.2" x2="297.4" y2="207.2" stroke="#555" stroke-width="0.8"/>
<text x="306.5" y="206" font-size="8.8" text-anchor="start" font-weight="normal" fill="#111">Range within 1.5IQR</text>
<line x1="288.6" y1="213.9" x2="300.8" y2="213.9" stroke="#888" stroke-width="1"/>
<text x="306.5" y="216.6" font-size="8.8" text-anchor="start" font-weight="normal" fill="#111">Median Line</text>
<rect x="293.9" y="223.3" width="2.6" height="2.6" fill="none" stroke="#555" stroke-width="0.8"/>
<text x="306.5" y="227" font-size="8.8" text-anchor="start" font-weight="normal" fill="#111">Mean</text>
<circle cx="295.2" cy="235.4" r="0.9" fill="#333"/>
<text x="306.5" y="237.6" font-size="8.8" text-anchor="start" font-weight="normal" fill="#111">Outliers</text>
<rect x="562.5" y="23.6" width="154.7" height="265.6" fill="none" stroke="#6a6a6a" stroke-width="1.15"/>
<line x1="559" y1="270.23" x2="562.5" y2="270.23" stroke="#6a6a6a" stroke-width="1.15"/>
<text x="556.5" y="273.43" font-size="11" text-anchor="end" font-weight="normal" fill="#111">-0.4</text>
<line x1="559" y1="232.29" x2="562.5" y2="232.29" stroke="#6a6a6a" stroke-width="1.15"/>
<text x="556.5" y="235.49" font-size="11" text-anchor="end" font-weight="normal" fill="#111">-0.2</text>
<line x1="559" y1="194.34" x2="562.5" y2="194.34" stroke="#6a6a6a" stroke-width="1.15"/>
<text x="556.5" y="197.54" font-size="11" text-anchor="end" font-weight="normal" fill="#111">0</text>
<line x1="559" y1="156.4" x2="562.5" y2="156.4" stroke="#6a6a6a" stroke-width="1.15"/>
<text x="556.5" y="159.6" font-size="11" text-anchor="end" font-weight="normal" fill="#111">0.2</text>
<line x1="559" y1="118.46" x2="562.5" y2="118.46" stroke="#6a6a6a" stroke-width="1.15"/>
<text x="556.5" y="121.66" font-size="11" text-anchor="end" font-weight="normal" fill="#111">0.4</text>
<line x1="559" y1="80.51" x2="562.5" y2="80.51" stroke="#6a6a6a" stroke-width="1.15"/>
<text x="556.5" y="83.71" font-size="11" text-anchor="end" font-weight="normal" fill="#111">0.6</text>
<line x1="559" y1="42.57" x2="562.5" y2="42.57" stroke="#6a6a6a" stroke-width="1.15"/>
<text x="556.5" y="45.77" font-size="11" text-anchor="end" font-weight="normal" fill="#111">0.8</text>
<line x1="560.5" y1="251.26" x2="562.5" y2="251.26" stroke="#6a6a6a" stroke-width="1.15"/>
<line x1="560.5" y1="213.31" x2="562.5" y2="213.31" stroke="#6a6a6a" stroke-width="1.15"/>
<line x1="560.5" y1="175.37" x2="562.5" y2="175.37" stroke="#6a6a6a" stroke-width="1.15"/>
<line x1="560.5" y1="137.43" x2="562.5" y2="137.43" stroke="#6a6a6a" stroke-width="1.15"/>
<line x1="560.5" y1="99.49" x2="562.5" y2="99.49" stroke="#6a6a6a" stroke-width="1.15"/>
<line x1="560.5" y1="61.54" x2="562.5" y2="61.54" stroke="#6a6a6a" stroke-width="1.15"/>
<line x1="560.5" y1="289.18" x2="562.5" y2="289.18" stroke="#6a6a6a" stroke-width="1.15"/>
<text x="533.3" y="156.3" font-size="12.6" text-anchor="middle" fill="#111" transform="rotate(-90 533.3 156.3)">Soil pH vulnerability</text>
<line x1="578" y1="88.86" x2="578" y2="128.13" stroke="#f28a8a" stroke-width="1"/>
<line x1="574.75" y1="88.86" x2="581.25" y2="88.86" stroke="#f28a8a" stroke-width="1"/>
<line x1="578" y1="166.83" x2="578" y2="174.42" stroke="#f28a8a" stroke-width="1"/>
<line x1="574.75" y1="174.42" x2="581.25" y2="174.42" stroke="#f28a8a" stroke-width="1"/>
<rect x="571.4" y="128.13" width="13.2" height="38.7" fill="#fbbaba" stroke="#f28a8a" stroke-width="1"/>
<line x1="571.4" y1="154.12" x2="584.6" y2="154.12" stroke="#ee6a6a" stroke-width="1"/>
<rect x="576.75" y="142.44" width="2.5" height="2.5" fill="none" stroke="#e85a5a" stroke-width="0.8"/>
<line x1="598.8" y1="100.05" x2="598.8" y2="134.58" stroke="#5e9cea" stroke-width="1"/>
<line x1="595.55" y1="100.05" x2="602.05" y2="100.05" stroke="#5e9cea" stroke-width="1"/>
<line x1="598.8" y1="171.39" x2="598.8" y2="178.22" stroke="#5e9cea" stroke-width="1"/>
<line x1="595.55" y1="178.22" x2="602.05" y2="178.22" stroke="#5e9cea" stroke-width="1"/>
<rect x="592.2" y="134.58" width="13.2" height="36.8" fill="#b5cff4" stroke="#5e9cea" stroke-width="1"/>
<line x1="592.2" y1="156.59" x2="605.4" y2="156.59" stroke="#3f86e6" stroke-width="1"/>
<rect x="597.55" y="150.6" width="2.5" height="2.5" fill="none" stroke="#3a7fe0" stroke-width="0.8"/>
<line x1="629.4" y1="124.15" x2="629.4" y2="146.53" stroke="#f28a8a" stroke-width="1"/>
<line x1="626.15" y1="124.15" x2="632.65" y2="124.15" stroke="#f28a8a" stroke-width="1"/>
<line x1="629.4" y1="218.63" x2="629.4" y2="264.54" stroke="#f28a8a" stroke-width="1"/>
<line x1="626.15" y1="264.54" x2="632.65" y2="264.54" stroke="#f28a8a" stroke-width="1"/>
<rect x="622.8" y="146.53" width="13.2" height="72.09" fill="#fbbaba" stroke="#f28a8a" stroke-width="1"/>
<line x1="622.8" y1="171.39" x2="636" y2="171.39" stroke="#ee6a6a" stroke-width="1"/>
<rect x="628.15" y="181.52" width="2.5" height="2.5" fill="none" stroke="#e85a5a" stroke-width="0.8"/>
<line x1="650.2" y1="95.69" x2="650.2" y2="126.8" stroke="#5e9cea" stroke-width="1"/>
<line x1="646.95" y1="95.69" x2="653.45" y2="95.69" stroke="#5e9cea" stroke-width="1"/>
<line x1="650.2" y1="189.79" x2="650.2" y2="241.58" stroke="#5e9cea" stroke-width="1"/>
<line x1="646.95" y1="241.58" x2="653.45" y2="241.58" stroke="#5e9cea" stroke-width="1"/>
<rect x="643.6" y="126.8" width="13.2" height="62.99" fill="#b5cff4" stroke="#5e9cea" stroke-width="1"/>
<line x1="643.6" y1="150.52" x2="656.8" y2="150.52" stroke="#3f86e6" stroke-width="1"/>
<rect x="648.95" y="157.24" width="2.5" height="2.5" fill="none" stroke="#3a7fe0" stroke-width="0.8"/>
<line x1="681.2" y1="42.57" x2="681.2" y2="60.78" stroke="#f28a8a" stroke-width="1"/>
<line x1="677.95" y1="42.57" x2="684.45" y2="42.57" stroke="#f28a8a" stroke-width="1"/>
<line x1="681.2" y1="81.65" x2="681.2" y2="98.54" stroke="#f28a8a" stroke-width="1"/>
<line x1="677.95" y1="98.54" x2="684.45" y2="98.54" stroke="#f28a8a" stroke-width="1"/>
<rect x="674.6" y="60.78" width="13.2" height="20.87" fill="#fbbaba" stroke="#f28a8a" stroke-width="1"/>
<line x1="674.6" y1="77.1" x2="687.8" y2="77.1" stroke="#ee6a6a" stroke-width="1"/>
<rect x="679.95" y="70.54" width="2.5" height="2.5" fill="none" stroke="#e85a5a" stroke-width="0.8"/>
<line x1="702" y1="40.67" x2="702" y2="52.06" stroke="#5e9cea" stroke-width="1"/>
<line x1="698.75" y1="40.67" x2="705.25" y2="40.67" stroke="#5e9cea" stroke-width="1"/>
<rect x="695.4" y="52.06" width="13.2" height="23.15" fill="#b5cff4" stroke="#5e9cea" stroke-width="1"/>
<line x1="695.4" y1="61.54" x2="708.6" y2="61.54" stroke="#3f86e6" stroke-width="1"/>
<rect x="700.75" y="66.74" width="2.5" height="2.5" fill="none" stroke="#3a7fe0" stroke-width="0.8"/>
<circle cx="702" cy="111.44" r="1.1" fill="#2a72e0"/>
<text x="588.4" y="303" font-size="11.7" text-anchor="middle" font-weight="normal" fill="#111">Group 1</text>
<text x="639.8" y="303" font-size="11.7" text-anchor="middle" font-weight="normal" fill="#111">Group 2</text>
<text x="691.6" y="303" font-size="11.7" text-anchor="middle" font-weight="normal" fill="#111">Group 3</text>
<rect x="569.2" y="31.2" width="21.2" height="10.4" fill="#fbbaba" stroke="#f28a8a" stroke-width="1"/>
<text x="594.6" y="39.4" font-size="9.7" text-anchor="start" font-weight="normal" fill="#111">to acid spill</text>
<rect x="569.2" y="44.3" width="21.2" height="10.4" fill="#b5cff4" stroke="#5e9cea" stroke-width="1"/>
<text x="594.6" y="52.5" font-size="9.7" text-anchor="start" font-weight="normal" fill="#111">to alkali spill</text>
<text x="0.8" y="14" font-size="16.5" text-anchor="start" font-weight="bold" fill="#000" style="stroke:#000;stroke-width:0.5px">A</text>
<text x="507.3" y="14.2" font-size="16" text-anchor="start" font-weight="bold" fill="#000" style="stroke:#000;stroke-width:0.35px">B</text>
</svg>
</body></html>
